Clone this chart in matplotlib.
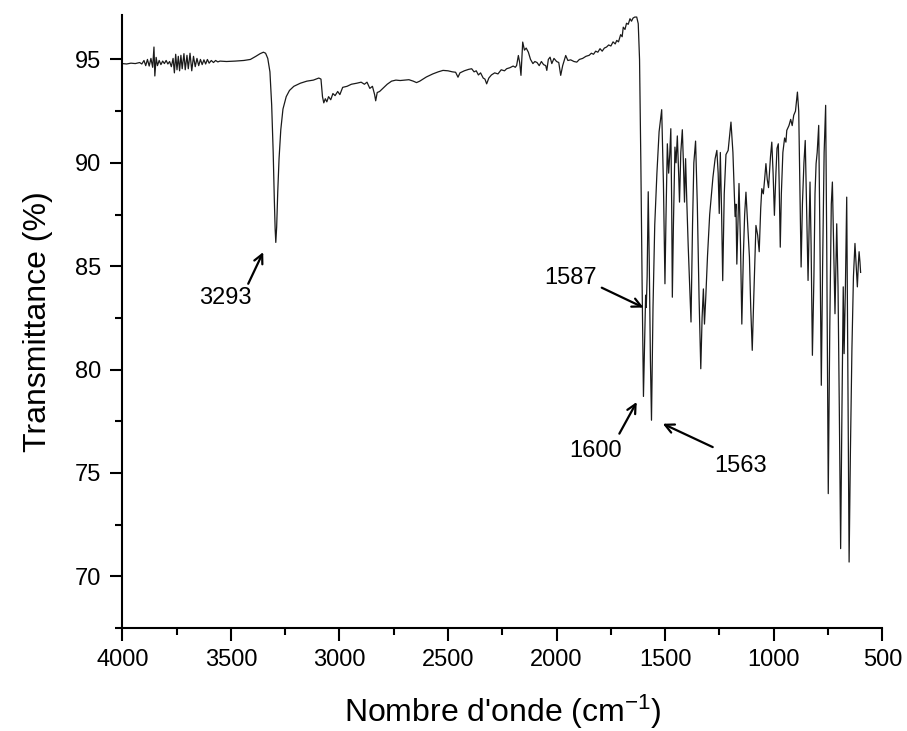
import numpy as np
import matplotlib
matplotlib.use('Agg')
import matplotlib.pyplot as plt
from matplotlib.ticker import MultipleLocator

plt.rcParams['font.family'] = ['Liberation Sans', 'DejaVu Sans']
plt.rcParams['mathtext.fontset'] = 'custom'
plt.rcParams['mathtext.rm'] = 'Liberation Sans'
plt.rcParams['mathtext.it'] = 'Liberation Sans:italic'

# ---- data (wavenumber cm-1, transmittance %) ----
# O-H / N-H region, 4000 - 3350
wn_high = [4000, 3980, 3960, 3940, 3920, 3910, 3900, 3892, 3884, 3876, 3868, 3860,
           3854, 3850, 3844, 3838, 3830, 3822, 3814, 3806, 3798, 3790, 3782, 3774,
           3766, 3760, 3754, 3748, 3742, 3736, 3730, 3724, 3716, 3710, 3702, 3696,
           3688, 3680, 3672, 3664, 3656, 3648, 3640, 3632, 3624, 3616, 3608, 3600,
           3590, 3580, 3570, 3560, 3550, 3520, 3480, 3440, 3410, 3385, 3365, 3350]
t_high = [94.80, 94.78, 94.82, 94.80, 94.85, 94.78, 94.95, 94.70, 95.00, 94.68, 95.05, 94.62,
          95.60, 94.20, 95.10, 94.70, 94.95, 94.75, 94.92, 94.80, 94.95, 94.78, 94.90, 94.65,
          95.05, 94.35, 95.25, 94.50, 95.15, 94.45, 95.20, 94.55, 95.28, 94.50, 95.20, 94.55,
          95.30, 94.45, 95.15, 94.65, 95.05, 94.70, 95.00, 94.75, 94.98, 94.78, 95.00, 94.82,
          94.95, 94.85, 94.95, 94.88, 94.92, 94.90, 94.92, 94.95, 95.00, 95.15, 95.28, 95.35]

# 3293 band and C-H region, 3340 - 1650
wn_mid = [3340, 3330, 3320, 3312, 3305, 3300, 3296, 3293, 3289, 3284, 3278, 3270,
          3260, 3245, 3230, 3210, 3180, 3150, 3120, 3095, 3085, 3078, 3072, 3065,
          3058, 3050, 3040, 3030, 3020, 3008, 2998, 2985, 2965, 2945, 2920, 2900,
          2885, 2873, 2860, 2848, 2838, 2833, 2826, 2815, 2800, 2780, 2760, 2740,
          2720, 2700, 2680, 2660, 2645, 2630, 2600, 2570, 2545, 2523, 2500, 2480,
          2465, 2454, 2445, 2425, 2405, 2391, 2380, 2370, 2360, 2350, 2338, 2330,
          2322, 2312, 2300, 2285, 2270, 2255, 2240, 2230, 2215, 2200, 2190, 2184,
          2176, 2170, 2164, 2156, 2148, 2140, 2130, 2120, 2109, 2100, 2090, 2080,
          2070, 2060, 2050, 2045, 2038, 2030, 2022, 2012, 2000, 1990, 1981, 1972,
          1958, 1948, 1935, 1920, 1907, 1895, 1880, 1865, 1850, 1840, 1830, 1820,
          1810, 1800, 1790, 1780, 1770, 1760, 1750, 1740, 1730, 1723, 1715, 1705,
          1698, 1693, 1685, 1678, 1670, 1662, 1655, 1648, 1640, 1631, 1624]
t_mid = [95.30, 95.05, 94.40, 92.80, 90.50, 88.30, 86.80, 86.15, 86.90, 88.60, 90.20, 91.60,
         92.60, 93.20, 93.50, 93.70, 93.85, 93.95, 94.00, 94.10, 94.05, 93.20, 92.90, 93.10,
         92.95, 93.20, 93.05, 93.35, 93.25, 93.45, 93.30, 93.65, 93.70, 93.80, 93.85, 93.90,
         93.80, 93.90, 93.60, 93.70, 93.30, 93.00, 93.40, 93.45, 93.60, 93.80, 93.95, 94.00,
         93.98, 94.00, 94.02, 93.95, 93.88, 93.95, 94.15, 94.30, 94.40, 94.47, 94.45, 94.40,
         94.38, 94.14, 94.35, 94.45, 94.52, 94.55, 94.40, 94.45, 94.25, 94.35, 94.10, 94.05,
         93.82, 94.10, 94.25, 94.35, 94.30, 94.50, 94.45, 94.55, 94.60, 94.68, 94.62, 94.71,
         95.19, 94.85, 94.23, 95.84, 95.45, 95.55, 95.35, 95.00, 94.80, 94.90, 94.85, 94.70,
         94.90, 94.75, 94.70, 94.47, 95.00, 95.11, 94.80, 95.05, 94.90, 94.85, 94.23, 94.70,
         95.19, 94.95, 94.98, 94.90, 94.87, 95.00, 95.05, 95.15, 95.20, 95.30, 95.25, 95.40,
         95.35, 95.52, 95.40, 95.55, 95.60, 95.70, 95.65, 95.85, 95.75, 95.92, 95.85, 96.20,
         96.10, 96.56, 96.45, 96.75, 96.70, 96.97, 96.85, 97.00, 97.05, 97.05, 96.73]

# fingerprint region, 1620 - 600
wn_fp = [1618, 1612, 1606, 1600, 1594, 1590, 1587, 1583, 1578, 1573, 1568, 1563,
         1556, 1548, 1538, 1528, 1516, 1508, 1501, 1496, 1490, 1484, 1479, 1474,
         1470, 1467, 1462, 1455, 1450, 1444, 1438, 1434, 1428, 1421, 1416, 1411,
         1406, 1400, 1394, 1381, 1374, 1368, 1360, 1352, 1344, 1336, 1330, 1324,
         1319, 1313, 1305, 1295, 1280, 1270, 1262, 1256, 1251, 1246, 1240, 1235,
         1228, 1220, 1210, 1197, 1188, 1178, 1174, 1170, 1165, 1160, 1153, 1147,
         1140, 1134, 1128, 1120, 1112, 1106, 1099, 1092, 1082, 1074, 1067, 1060,
         1055, 1048, 1042, 1036, 1030, 1024, 1015, 1009, 1003, 997, 990, 985,
         979, 975, 970, 965, 958, 950, 944, 940, 930, 922, 915, 908,
         900, 891, 885, 880, 874, 868, 861, 855, 849, 842, 837, 833,
         828, 822, 815, 810, 805, 800, 793, 788, 781, 775, 768, 761,
         756, 749, 742, 735, 730, 724, 718, 714, 710, 704, 698, 692,
         686, 680, 676, 670, 664, 659, 653, 647, 640, 633, 626, 620,
         615, 610, 607, 603, 600]
t_fp = [95.00, 90.00, 84.00, 78.70, 81.50, 83.60, 83.00, 84.50, 88.60, 85.00, 80.50, 77.55,
        83.00, 87.00, 89.50, 91.50, 92.57, 89.00, 84.15, 87.50, 90.92, 89.50, 90.40, 91.65,
        88.00, 83.50, 87.00, 90.76, 90.00, 91.30, 89.50, 88.10, 90.50, 91.60, 90.00, 88.10,
        90.20, 88.00, 86.00, 82.30, 87.00, 90.00, 91.05, 88.00, 83.50, 80.04, 82.50, 83.90,
        82.20, 83.50, 85.50, 87.50, 89.30, 90.20, 90.60, 89.50, 87.55, 90.50, 87.50, 84.30,
        88.50, 90.40, 90.60, 91.97, 90.50, 87.40, 88.00, 85.10, 87.00, 89.00, 86.00, 82.20,
        85.50, 87.50, 88.58, 87.00, 85.44, 83.00, 80.93, 83.50, 86.97, 86.50, 85.70, 87.80,
        88.75, 88.50, 89.20, 89.96, 89.20, 88.80, 90.30, 91.00, 89.50, 87.46, 89.50, 90.70,
        90.92, 89.00, 85.92, 88.50, 90.50, 91.20, 91.00, 91.57, 91.80, 92.10, 91.80, 92.30,
        92.50, 93.42, 92.50, 89.00, 84.96, 88.00, 90.00, 91.08, 88.00, 84.31, 87.00, 89.07,
        86.00, 80.69, 84.50, 88.50, 89.96, 90.50, 91.81, 87.00, 79.24, 85.00, 90.50, 92.78,
        86.00, 74.00, 82.00, 88.00, 89.07, 86.00, 82.70, 85.00, 87.05, 84.00, 78.00, 71.34,
        78.00, 84.00, 80.77, 84.00, 88.34, 80.00, 70.69, 76.00, 81.00, 84.50, 86.10, 85.00,
        84.00, 85.20, 85.70, 85.20, 84.70]

# peak labels: (text, text position, arrow tail, arrow head)
peak_labels = ['3293', '1587', '1600', '1563']
label_xy = [(3527, 83.45), (1934, 84.45), (1819, 76.05), (1155, 75.33)]
arrow_tail = [(3420, 84.15), (1792, 83.96), (1711, 76.9), (1281, 76.25)]
arrow_head = [(3351, 85.68), (1600, 83.0), (1631, 78.43), (1511, 77.38)]

wn = np.array(wn_high + wn_mid + wn_fp)
trans = np.array(t_high + t_mid + t_fp)

fig = plt.figure(figsize=(9.07, 7.31), dpi=100)
ax = fig.add_axes([0.1348, 0.1409, 0.838, 0.8386])

ax.plot(wn, trans, color='#1a1a1a', lw=0.9)

for lab, txy, tail, head in zip(peak_labels, label_xy, arrow_tail, arrow_head):
    ax.text(txy[0], txy[1], lab, fontsize=17, ha='center', va='center')
    ax.annotate('', xy=head, xytext=tail,
                arrowprops=dict(arrowstyle='->', lw=1.6, color='black',
                                shrinkA=0, shrinkB=0, mutation_scale=16))

ax.set_xlim(4000, 500)
ax.set_ylim(67.5, 97.15)
ax.xaxis.set_major_locator(MultipleLocator(500))
ax.xaxis.set_minor_locator(MultipleLocator(250))
ax.yaxis.set_major_locator(MultipleLocator(5))
ax.yaxis.set_minor_locator(MultipleLocator(2.5))

for side in ['top', 'right']:
    ax.spines[side].set_visible(False)
for side in ['left', 'bottom']:
    ax.spines[side].set_linewidth(1.5)

ax.tick_params(which='major', direction='out', length=9, width=1.5, labelsize=17, pad=6)
ax.tick_params(which='minor', direction='out', length=5, width=1.5)

ax.set_xlabel("Nombre d'onde (cm$^{-1}$)", fontsize=23, labelpad=16)
ax.set_ylabel('Transmittance (%)', fontsize=23, labelpad=16)

fig.savefig('out.png', dpi=100)
